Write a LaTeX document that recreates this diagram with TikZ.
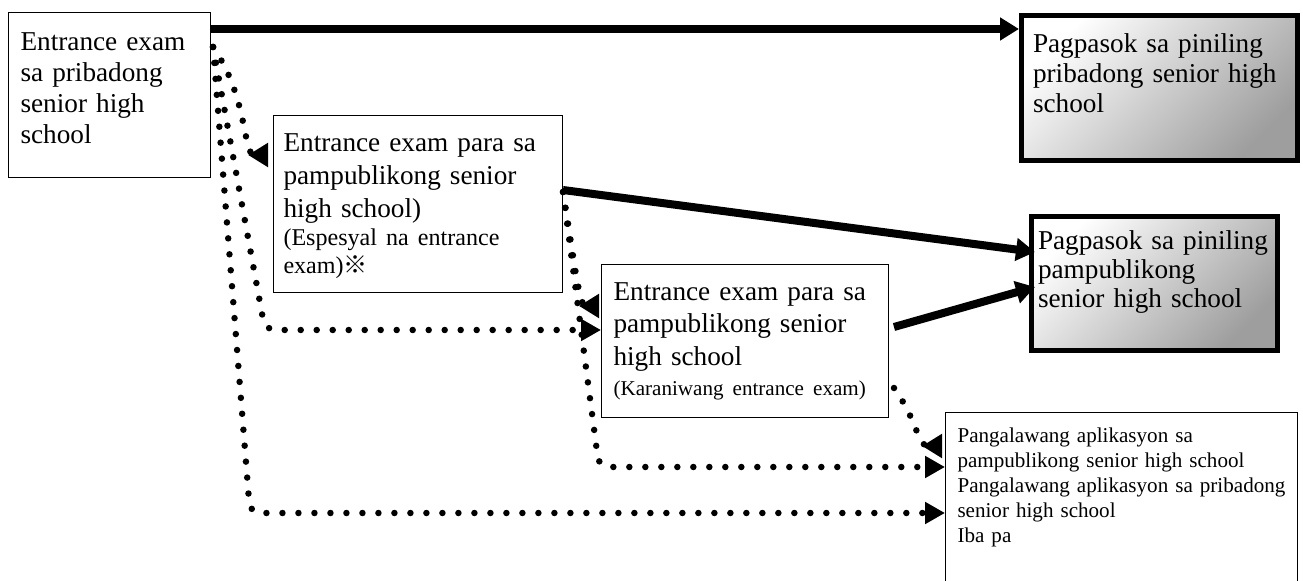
\documentclass[tikz,border=0pt]{standalone}
\usepackage{fontspec}
\setmainfont{Liberation Serif}
\newfontfamily\cjk{Noto Sans CJK JP}
\usetikzlibrary{arrows.meta}

\begin{document}
\begin{tikzpicture}[x=0.02cm,y=-0.02cm,
	box/.style={draw,line width=0.6pt,anchor=north west,align=left,inner ysep=0pt,fill=white},
	goal/.style={box,line width=0.1cm,top color=white,bottom color=black!38,shading angle=45},
	txt/.style={font=\fontsize{15.5}{#1}\selectfont},
	thickarrow/.style={line width=0.16cm,-{Triangle[length=0.38cm,width=0.44cm]}},
	dots/.style={line width=0.13cm,line cap=round,dash pattern=on 0pt off 0.32cm},
	tip/.style={-{Triangle[length=0.4cm,width=0.42cm]}},
	backtip/.style={-{Triangle[length=0.4cm,width=0.46cm,reversed]}}]
\useasboundingbox (0,0) rectangle (1303,581);
\clip (0,0) rectangle (1303,581);

% boxes
\node [box,txt=17.6pt,inner xsep=0.24cm,text width=3.56cm,text height=0.76cm,text depth=2.54cm] (privexam) at (8,12)
	{Entrance exam\\sa pribadong\\senior high\\school};
\node [goal,txt=17pt,inner xsep=0.23cm,text width=5.06cm,text height=0.75cm,text depth=2.15cm] (privin) at (1019,13)
	{Pagpasok sa piniling\\pribadong senior high\\school};
\node [box,txt=18.8pt,inner xsep=0.2cm,text width=5.38cm,text height=0.72cm,text depth=2.82cm] (specexam) at (273,115)
	{Entrance exam para sa\\pampublikong senior\\high school)\par
	{\fontsize{13.7}{15.8}\selectfont(Espesyal na entrance\\exam){\cjk ※}\par}};
\node [goal,txt=16.4pt,inner xsep=0.13cm,text width=4.66cm,text height=0.67cm,text depth=2.01cm] (pubin) at (1029,214)
	{Pagpasok sa piniling\\pampublikong\\senior high school};
\node [box,txt=18.4pt,inner xsep=0.24cm,text width=5.26cm,text height=0.72cm,text depth=2.34cm] (regexam) at (601,264)
	{Entrance exam para sa\\pampublikong senior\\high school\par
	{\fontsize{12}{17}\selectfont(Karaniwang entrance exam)\par}};
\node [box,font=\fontsize{12}{14.2}\selectfont,inner xsep=0.24cm,text width=6.56cm,text height=0.6cm,text depth=2.96cm] (second) at (945,412)
	{Pangalawang aplikasyon sa\\pampublikong senior high school\\Pangalawang aplikasyon sa pribadong\\senior high school\\Iba pa};

% end points
\path (privexam.north east) ++(0,17) coordinate (a1)
	(privexam.north east) ++(2,35) coordinate (a0)
	(specexam.north west) ++(-5,40) coordinate (c1)
	(specexam.north east) ++(0,75) coordinate (c2)
	(specexam.north east) ++(0,77) coordinate (c0)
	(pubin.north west) ++(6,38) coordinate (d1)
	(pubin.north west) ++(6,73) coordinate (d2)
	(regexam.north west) ++(-2,42) coordinate (e0)
	(regexam.north west) ++(0,66) coordinate (e1)
	(regexam.north east) ++(5,124) coordinate (e2)
	(regexam.north east) ++(5,63) coordinate (e3)
	(second.north west) ++(-3,34) coordinate (f0)
	(second.north west) ++(0,55) coordinate (f1)
	(second.north west) ++(0,101) coordinate (f2);
\path (a0 |- e1) ++(52,0) coordinate (k1)
	(a0 |- f2) ++(37,0) coordinate (k2)
	(c0 |- f1) ++(36,0) coordinate (k3);

% passing
\draw [thickarrow] (a1) -- (a1 -| privin.west);
\draw [thickarrow] (c2) -- (d1);
\draw [thickarrow] (e3) -- (d2);

% next tries
\draw [dots,backtip] (a0) .. controls +(35,50) and +(-25,0) .. (c1);
\draw [dots,tip,rounded corners=0.2cm] (a0) -- (k1) -- (e1);
\draw [dots,tip,rounded corners=0.2cm] (a0) -- (k2) -- (f2);
\draw [dots,backtip] (c0) .. controls +(10,60) and +(-20,0) .. (e0);
\draw [dots,tip,rounded corners=0.2cm] (c0) -- (k3) -- (f1);
\draw [dots,backtip] (e2) .. controls +(25,35) and +(-25,0) .. (f0);
\end{tikzpicture}
\end{document}
